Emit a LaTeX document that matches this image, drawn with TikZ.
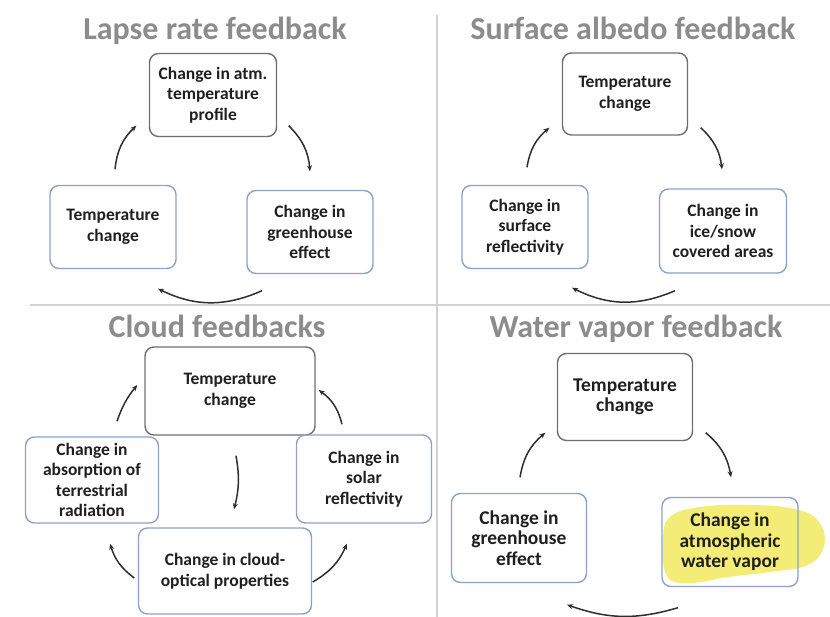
\documentclass[tikz,border=0pt]{standalone}
\usepackage{fontspec}
\setmainfont{Carlito}
\usetikzlibrary{arrows.meta,calc}
\definecolor{boxgray}{HTML}{6E6E6E}
\definecolor{boxblue}{HTML}{8CA2C6}
\definecolor{titlegray}{HTML}{8C8C8C}
\definecolor{divgray}{HTML}{D2D2D2}
\definecolor{arrowc}{HTML}{2E2E2E}
\definecolor{hilite}{HTML}{F2EB68}
\begin{document}
\begin{tikzpicture}[x=1pt,y=-1pt,
  box/.style={rounded corners=9pt, line width=1.4pt, align=center, inner sep=0pt, text=black!88},
  fA/.style={font=\bfseries\fontsize{17.5}{20.5}\selectfont},
  fB/.style={font=\bfseries\fontsize{17.5}{20.5}\selectfont},
  fC/.style={font=\bfseries\fontsize{19.5}{20.5}\selectfont},
  gbox/.style={box, draw=boxgray},
  bbox/.style={box, draw=boxblue},
  arr/.style={line width=1.5pt, draw=arrowc, -{Stealth[length=6pt,width=5pt]}},
  ttl/.style={text=titlegray, anchor=base, font=\bfseries\fontsize{32}{38}\selectfont},
  divider/.style={draw=divgray, line width=2.5pt}]
\useasboundingbox (0,0) rectangle (830,617);
% dividers
\draw[divider] (437,15) -- (437,617);
\draw[divider] (30,305) -- (830,305);
% titles
\node[ttl] (ti1) at (215,40) {Lapse rate feedback};
\node[ttl] (ti2) at (633,40) {Surface albedo feedback};
\node[ttl] (ti3) at (217,338) {Cloud feedbacks};
\node[ttl] (ti4) at (636,338) {Water vapor feedback};
% panel 1
\node[gbox,fA,minimum width=127pt,minimum height=83pt] (t1) at (213,95) {Change in atm.\\temperature\\profile};
\node[bbox,fA,minimum width=126pt,minimum height=83pt] (l1) at (113,227) {Temperature\\change};
\node[bbox,fA,minimum width=126pt,minimum height=83pt] (r1) at (310,232) {Change in\\greenhouse\\effect};
\draw[arr] ($(l1.north)+(2,-15.5)$) to[bend left=20] ($(t1.south west)+(-12.5,-11.5)$);
\draw[arr] ($(t1.south east)+(11.5,-11.5)$) to[bend left=20] ($(r1.north)+(0,-18.5)$);
\draw[arr] ($(r1.south)+(-48,16.5)$) to[bend left=25] ($(l1.south)+(45,19.5)$);
% panel 2
\node[gbox,fA,minimum width=125pt,minimum height=82pt] (t2) at (625,94) {Temperature\\change};
\node[bbox,fA,minimum width=126pt,minimum height=83pt] (l2) at (525,227) {Change in\\surface\\reflectivity};
\node[bbox,fA,minimum width=127pt,minimum height=84pt] (r2) at (723,231) {Change in\\ice/snow\\covered areas};
\draw[arr] ($(l2.north)+(2,-17.5)$) to[bend left=20] ($(t2.south west)+(-12.5,-8)$);
\draw[arr] ($(t2.south east)+(12.5,-8)$) to[bend left=20] ($(r2.north)+(-1,-19)$);
\draw[arr] ($(r2.south)+(-48,17)$) to[bend left=25] ($(l2.south)+(47,18.5)$);
% panel 3
\node[gbox,fB,minimum width=170pt,minimum height=88pt] (t3) at (230,391) {Temperature\\change};
\node[bbox,fB,minimum width=133pt,minimum height=86pt] (l3) at (92,480) {Change in\\absorption of\\terrestrial\\radiation};
\node[bbox,fB,minimum width=135pt,minimum height=88pt] (r3) at (364,479) {Change in\\solar\\reflectivity};
\node[bbox,fB,minimum width=173pt,minimum height=86pt] (b3) at (225,571) {Change in cloud-\\optical properties};
\draw[arr] ($(l3.north)+(25,-15)$) to[bend left=10] ($(t3.west)+(-7,-6)$);
\draw[arr] ($(r3.north)+(-22,-10)$) to[bend right=20] ($(t3.east)+(3,-1)$);
\draw[arr] ($(t3.south)+(6,20)$) to[bend left=12] ($(b3.north)+(9,-18)$);
\draw[arr] ($(b3.west)+(-3.5,7)$) to[bend left=18] ($(l3.south)+(18,20)$);
\draw[arr] ($(b3.east)+(0.5,11)$) to[bend right=18] ($(r3.south)+(-17,20)$);
% panel 4
\fill[hilite, opacity=0.9] plot[smooth cycle, tension=0.7] coordinates {(663,540) (670,517) (700,507) (750,505) (795,509) (819,522) (824,546) (808,565) (770,572) (728,577) (690,583) (667,576)};
\node[gbox,fC,minimum width=135pt,minimum height=87pt] (t4) at (625,397) {Temperature\\change};
\node[bbox,fC,minimum width=135pt,minimum height=89pt] (l4) at (519,538) {Change in\\greenhouse\\effect};
\node[bbox,fC,minimum width=136pt,minimum height=89pt] (r4) at (730,542) {Change in\\atmospheric\\water vapor};
\draw[arr] ($(l4.north)+(1,-15.5)$) to[bend left=20] ($(t4.south west)+(-11.5,-8.5)$);
\draw[arr] ($(t4.south east)+(12.5,-8.5)$) to[bend left=20] ($(r4.north)+(1,-19.5)$);
\draw[arr] ($(r4.south)+(-52,20.5)$) to[bend left=18] ($(l4.south)+(48,21.5)$);
\end{tikzpicture}
\end{document}
